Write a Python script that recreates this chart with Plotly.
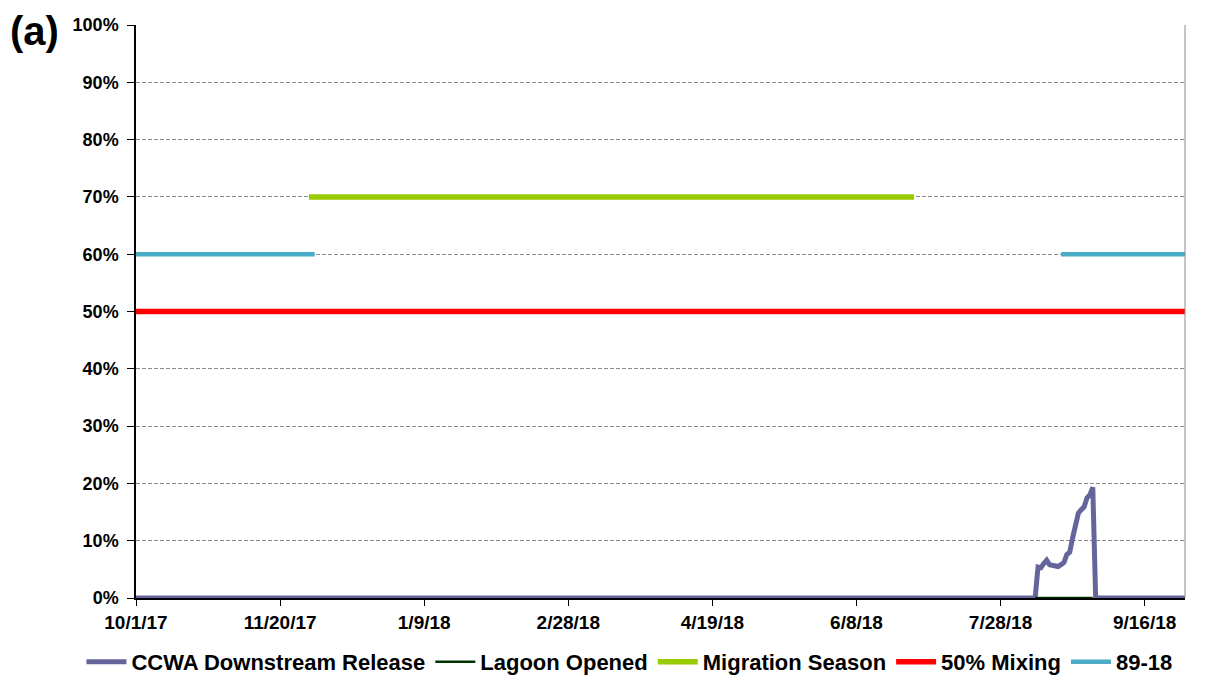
import pandas as pd
import plotly.graph_objects as go

# CCWA downstream release (fraction)
ccwa_dates = ["2017-10-01", "2018-08-09",
              "2018-08-10", "2018-08-11", "2018-08-12", "2018-08-13", "2018-08-14",
              "2018-08-15", "2018-08-16", "2018-08-17", "2018-08-18", "2018-08-19",
              "2018-08-20", "2018-08-21", "2018-08-22", "2018-08-23", "2018-08-24",
              "2018-08-25", "2018-08-26", "2018-08-27", "2018-08-28", "2018-08-29",
              "2018-08-30", "2018-09-30"]
ccwa_values = [0.0, 0.0,
               0.054, 0.053, 0.060, 0.066, 0.058,
               0.057, 0.056, 0.055, 0.058, 0.062,
               0.076, 0.080, 0.105, 0.130, 0.148,
               0.154, 0.159, 0.175, 0.180, 0.193,
               0.0, 0.0]

lagoon_dates = ["2018-08-09", "2018-08-29"]
lagoon_values = [0.0, 0.0]

migration_dates = ["2017-11-30", "2018-06-28"]
migration_values = [0.70, 0.70]

mixing_dates = ["2017-10-01", "2018-09-30"]
mixing_values = [0.50, 0.50]

hist_dates = ["2017-10-01", "2017-12-02", None, "2018-08-18", "2018-09-30"]
hist_values = [0.60, 0.60, None, 0.60, 0.60]

tick_dates = ["2017-10-01", "2017-11-20", "2018-01-09", "2018-02-28",
              "2018-04-19", "2018-06-08", "2018-07-28", "2018-09-16"]
tick_labels = ["10/1/17", "11/20/17", "1/9/18", "2/28/18",
               "4/19/18", "6/8/18", "7/28/18", "9/16/18"]

font_name = "Liberation Sans, Arial, sans-serif"

fig = go.Figure()
fig.add_trace(go.Scatter(x=pd.to_datetime(ccwa_dates), y=ccwa_values, mode="lines",
                         name="<b>CCWA Downstream Release</b>",
                         line=dict(color="#65659b", width=5)))
fig.add_trace(go.Scatter(x=pd.to_datetime(lagoon_dates), y=lagoon_values, mode="lines",
                         name="<b>Lagoon Opened</b>",
                         line=dict(color="#003300", width=2.5)))
fig.add_trace(go.Scatter(x=pd.to_datetime(migration_dates), y=migration_values, mode="lines",
                         name="<b>Migration Season</b>",
                         line=dict(color="#99cc00", width=5.5)))
fig.add_trace(go.Scatter(x=pd.to_datetime(mixing_dates), y=mixing_values, mode="lines",
                         name="<b>50% Mixing</b>",
                         line=dict(color="#ff0000", width=5.5)))
fig.add_trace(go.Scatter(x=[pd.Timestamp(d) if d else None for d in hist_dates], y=hist_values,
                         mode="lines", name="<b>89-18</b>", connectgaps=False,
                         line=dict(color="#4bacc6", width=4.5)))

fig.update_xaxes(
    range=[pd.Timestamp("2017-10-01"), pd.Timestamp("2018-09-30")],
    tickvals=pd.to_datetime(tick_dates),
    ticktext=[f"<b>{t}</b>" for t in tick_labels],
    tickfont=dict(size=19, color="black", family=font_name),
    ticks="outside", ticklen=6, tickcolor="black",
    showline=True, linecolor="black", linewidth=1.5,
    showgrid=False, zeroline=False, automargin=False,
)
fig.update_yaxes(
    range=[0, 1], dtick=0.1, tickformat=".0%",
    tickprefix="<b>", ticksuffix="</b>",
    tickfont=dict(size=18, color="black", family=font_name),
    ticks="outside", ticklen=7, tickcolor="black", ticklabelstandoff=5,
    showline=True, linecolor="black", linewidth=1.5,
    showgrid=True, gridcolor="#8c8c8c", griddash="4px,2px", gridwidth=1,
    zeroline=False, automargin=False,
)

# grey right border of the plot area
fig.add_shape(type="line", xref="x domain", yref="y domain", x0=1, x1=1, y0=0, y1=1,
              line=dict(color="#8c8c8c", width=1))

fig.add_annotation(text="<b>(a)</b>", xref="paper", yref="paper", x=-0.122, y=1.032,
                   xanchor="left", yanchor="top", showarrow=False,
                   font=dict(size=40, color="black", family=font_name))

fig.update_layout(
    width=1205, height=669,
    margin=dict(l=128, r=28, t=17, b=79, autoexpand=False),
    plot_bgcolor="white", paper_bgcolor="white",
    font=dict(family=font_name, color="black"),
    showlegend=True,
    legend=dict(orientation="h", x=-0.052, xanchor="left", y=-0.075, yanchor="top",
                font=dict(size=22, color="black", family=font_name),
                itemwidth=40, tracegroupgap=0),
)

fig.write_html("out.html")
